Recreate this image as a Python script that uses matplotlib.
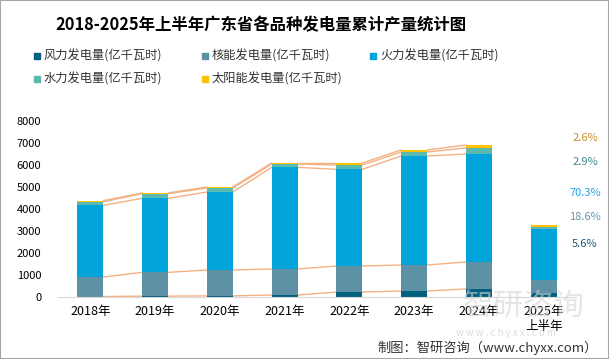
import matplotlib.pyplot as plt
import numpy as np

plt.rcParams['font.family'] = ['Noto Sans CJK SC', 'DejaVu Sans']

years = ['2018年', '2019年', '2020年', '2021年', '2022年', '2023年', '2024年', '2025年\n上半年']
wind = [20, 40, 50, 91, 227, 273, 364, 183]
nuclear = [889, 1081, 1177, 1182, 1182, 1182, 1227, 609]
thermal = [3258, 3364, 3546, 4621, 4394, 4954, 4909, 2301]
hydro = [166, 212, 182, 151, 197, 182, 273, 95]
solar = [46, 30, 45, 46, 91, 91, 136, 85]
share_labels = ['2.6%', '2.9%', '70.3%', '18.6%', '5.6%']

series = [
    ('风力发电量(亿千瓦时)', wind, '#02607F'),
    ('核能发电量(亿千瓦时)', nuclear, '#5E90A6'),
    ('火力发电量(亿千瓦时)', thermal, '#00A3DA'),
    ('水力发电量(亿千瓦时)', hydro, '#5BBAB0'),
    ('太阳能发电量(亿千瓦时)', solar, '#FFC000'),
]
share_colors = ['#C8902A', '#3D8A8A', '#1EA5E6', '#6A95B0', '#1E5A7A']

W, H = 609, 359
fig = plt.figure(figsize=(W / 100, H / 100), dpi=100)
ax = fig.add_axes([58 / W, 1 - 297 / H, (576 - 58) / W, 176 / H])

x = np.arange(len(years))
w = 0.4
bottom = np.zeros(len(years))
for name, vals, color in series:
    vals = np.array(vals, dtype=float)
    ax.bar(x, vals, w, bottom=bottom, color=color, label=name, zorder=2)
    top = bottom + vals
    # series lines between bars (2018-2024)
    for i in range(6):
        ax.plot([x[i] + w / 2, x[i + 1] - w / 2], [top[i], top[i + 1]],
                color='#F4B183', lw=1.0, zorder=1)
    bottom = top

ax.set_xlim(-0.5, 7.5)
ax.set_ylim(0, 8000)
ax.set_yticks(range(0, 8001, 1000))
ax.set_xticks(x)
ax.set_xticklabels(years, fontsize=9)
ax.tick_params(axis='y', labelsize=8, length=0, pad=12)
ax.tick_params(axis='x', length=0, pad=6)
for s in ['top', 'right', 'left']:
    ax.spines[s].set_visible(False)
ax.spines['bottom'].set_color('#D9D9D9')

# 2025 share labels
ys = [138, 162, 193, 217, 244]
for lab, yy, c in zip(share_labels, ys, share_colors):
    fig.text(585 / W, 1 - yy / H, lab, color=c, fontsize=8, ha='center', va='center')

fig.text(261 / W, 1 - 25 / H, '2018-2025年上半年广东省各品种发电量累计产量统计图',
         fontsize=11.8, fontweight='bold', ha='center', va='center')

# legend drawn by hand: equal column widths, row-major
leg_x = [37, 205, 373]
leg_y = [56, 79]
for k, (name, vals, color) in enumerate(series):
    cx = leg_x[k % 3]
    cy = leg_y[k // 3]
    fig.patches.append(plt.Rectangle(((cx - 3) / W, 1 - (cy + 3) / H), 6 / W, 6 / H,
                                     transform=fig.transFigure, color=color))
    fig.text((cx + 7) / W, 1 - cy / H, name, fontsize=8.8, color='#333333',
             ha='left', va='center')

# watermark
fig.text(0.86, 1 - 306 / H, '智研咨询', fontsize=22, color='#D4D4D4', alpha=0.6,
         ha='center', va='center', zorder=0)
fig.text(0.83, 1 - 333 / H, 'w w w . c h y x x . c o m', fontsize=7, color='#DDDDDD',
         ha='center', va='center', zorder=0)

fig.text(598 / W, 1 - 348 / H, '制图：智研咨询（www.chyxx.com）', fontsize=9.5,
         color='#333333', ha='right', va='center')

fig.patches.append(plt.Rectangle((0, 0), 1, 1, transform=fig.transFigure,
                                 fill=False, edgecolor='#A6A6A6', lw=1.5))

fig.savefig('out.png', dpi=100)
